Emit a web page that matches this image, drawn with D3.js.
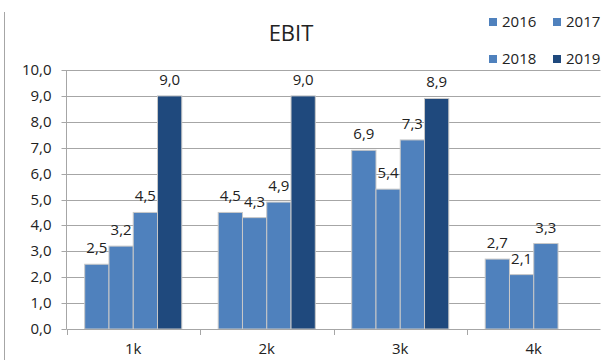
<!DOCTYPE html>
<html><head><meta charset="utf-8">
<script src="https://cdn.jsdelivr.net/npm/d3@7"></script>
<style>body{margin:0;background:#fff}svg{display:block}text{font-family:"Open Sans",sans-serif;fill:#222}</style>
</head><body><svg id="c" width="601" height="360"></svg>
<script>
const categories = ["1k","2k","3k","4k"];
const seriesNames = ["2016","2017","2018","2019"];
const v2016 = [2.5, 4.5, 6.9, 2.7];
const v2017 = [3.2, 4.3, 5.4, 2.1];
const v2018 = [4.5, 4.9, 7.3, 3.3];
const v2019 = [9.0, 9.0, 8.9, null];
const yTicks = [0,1,2,3,4,5,6,7,8,9,10];
const colors = ["#4f81bd","#4f81bd","#4f81bd","#1f497d"];

const values = [v2016, v2017, v2018, v2019];
const svg = d3.select("#c");
const fmt = v => v.toFixed(1).replace(".", ",");

const x = d3.scaleBand().domain(categories).range([66.5, 600.5]);
const bw = x.bandwidth(), w = bw / 5.5;
const xs = d3.scaleBand().domain(seriesNames).range([0.75 * w, 4.75 * w]);
const y = d3.scaleLinear().domain([0, 10]).range([329, 70]);

// chart border fragment on left
svg.append("line").attr("x1",4.5).attr("x2",4.5).attr("y1",12).attr("y2",360).attr("stroke","#a6a6a6");

// gridlines
svg.append("g").selectAll("line").data(yTicks.filter(t=>t>0)).join("line")
  .attr("x1",66.5).attr("x2",600.5)
  .attr("y1",d=>Math.round(y(d))+0.5).attr("y2",d=>Math.round(y(d))+0.5)
  .attr("stroke","#a6a6a6");

// y axis
const ya = svg.append("g").attr("transform","translate(66.5,0)")
  .call(d3.axisLeft(y).tickValues(yTicks).tickFormat(fmt).tickSize(5).tickPadding(10));
ya.select(".domain").attr("stroke","#a6a6a6").attr("d","M0,70V329");
ya.selectAll(".tick line").attr("stroke","#a6a6a6");
ya.selectAll(".tick").attr("transform",d=>`translate(0,${Math.round(y(d))+0.5})`);
ya.selectAll("text").attr("font-size",15).attr("font-family","Open Sans").attr("fill","#222");

// bars
const groups = svg.append("g").selectAll("g").data(seriesNames).join("g");
groups.each(function(s, si){
  const data = categories.map((c,i)=>({c, v: values[si][i]})).filter(d=>d.v!=null);
  d3.select(this).selectAll("rect").data(data).join("rect")
    .attr("x", d=>x(d.c)+xs(s))
    .attr("width", xs.bandwidth())
    .attr("y", d=>y(d.v))
    .attr("height", d=>y(0)-y(d.v))
    .attr("fill", colors[si])
    .attr("stroke","#c8c8c8").attr("stroke-width",1);
  d3.select(this).selectAll("text").data(data).join("text")
    .attr("x", d=>x(d.c)+xs(s)+xs.bandwidth()/2)
    .attr("y", d=>y(d.v)-11)
    .attr("text-anchor","middle").attr("font-size",15)
    .text(d=>fmt(d.v));
});

// x axis
const xa = svg.append("g").attr("transform","translate(0,329.5)")
  .call(d3.axisBottom(x).tickSize(0).tickPadding(14));
xa.select(".domain").attr("stroke","#a6a6a6").attr("d","M66.5,0H600.5");
xa.selectAll("text").attr("font-size",15).attr("font-family","Open Sans").attr("fill","#222");
svg.append("g").selectAll("line").data([66.5,200,333.5,467,600.5]).join("line")
  .attr("x1",d=>Math.round(d)+0.5).attr("x2",d=>Math.round(d)+0.5)
  .attr("y1",329).attr("y2",335).attr("stroke","#a6a6a6");

// title
svg.append("text").attr("x",291).attr("y",41).attr("text-anchor","middle")
  .attr("font-size",22).text("EBIT");

// legend
const legPos = [[489,18],[553,18],[489,55],[553,55]];
const leg = svg.append("g").selectAll("g").data(seriesNames).join("g")
  .attr("transform",(d,i)=>`translate(${legPos[i][0]},${legPos[i][1]})`);
leg.append("rect").attr("width",8).attr("height",8).attr("fill",(d,i)=>colors[i]);
leg.append("text").attr("x",13).attr("y",9).attr("font-size",15).text(d=>d);
</script></body></html>
